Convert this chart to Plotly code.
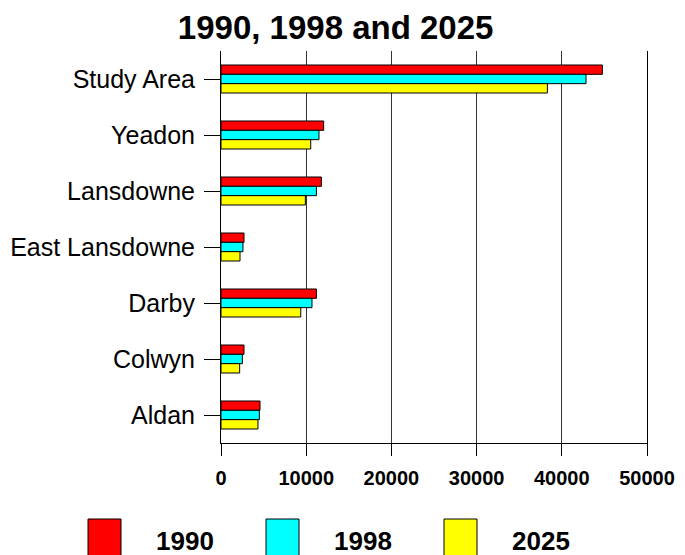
import plotly.graph_objects as go

categories = ["Study Area", "Yeadon", "Lansdowne", "East Lansdowne", "Darby", "Colwyn", "Aldan"]
series_names = ["1990", "1998", "2025"]
values_1990 = [44760, 12050, 11780, 2700, 11200, 2700, 4580]
values_1998 = [42840, 11500, 11200, 2580, 10680, 2510, 4500]
values_2025 = [38310, 10530, 9900, 2230, 9360, 2190, 4340]
colors = ["#FF0000", "#00FFFF", "#FFFF00"]
x_ticks = [0, 10000, 20000, 30000, 40000, 50000]

W, H = 685, 555
L, R, T, B = 221, 38, 51, 112
PW, PH = W - L - R, H - T - B

def px(x):
    return (x - L) / PW

def py(y):
    return (H - B - y) / PH

fig = go.Figure()
for name, vals, col in zip(series_names, [values_1990, values_1998, values_2025], colors):
    fig.add_trace(go.Bar(
        y=categories, x=vals, name=name, orientation="h",
        marker=dict(color=col, line=dict(color="black", width=1)),
        showlegend=False,
    ))

fig.update_layout(
    width=W, height=H,
    margin=dict(l=L, r=R, t=T, b=B),
    paper_bgcolor="white", plot_bgcolor="white",
    barmode="group", bargap=0.5, bargroupgap=0,
    title=dict(text="<b>1990, 1998 and 2025</b>", x=0.49, xanchor="center",
               y=1 - 27 / H, yanchor="middle",
               font=dict(family="Liberation Sans, Arial", size=33, color="black")),
    font=dict(family="Liberation Sans, Arial", color="black"),
)

fig.update_xaxes(
    range=[0, 50000], tickvals=x_ticks, ticktext=[f"<b>{v}</b>" for v in x_ticks],
    showgrid=True, gridcolor="#333333", gridwidth=1,
    showline=True, linecolor="black", linewidth=1,
    ticks="outside", ticklen=12, tickcolor="black",
    tickfont=dict(size=20, color="black"), zeroline=False,
    ticklabelstandoff=5, automargin=False,
)
fig.update_yaxes(
    autorange="reversed", categoryorder="array", categoryarray=categories,
    showline=True, mirror=True, linecolor="black", linewidth=1,
    ticks="outside", ticklen=16, tickcolor="black",
    tickfont=dict(size=25, color="black"), showgrid=False,
    ticklabelstandoff=4, automargin=False,
)

# legend drawn as squares and labels
leg_sq_left = [88, 266, 444]
for i, (name, col) in enumerate(zip(series_names, colors)):
    x0 = leg_sq_left[i]
    fig.add_shape(type="rect", xref="paper", yref="paper",
                  x0=px(x0), x1=px(x0 + 33), y0=py(519), y1=py(556),
                  fillcolor=col, line=dict(color="black", width=1))
    fig.add_annotation(xref="paper", yref="paper", x=px(x0 + 66), y=py(541),
                       xanchor="left", yanchor="middle", showarrow=False,
                       text=f"<b>{name}</b>",
                       font=dict(size=26, color="black", family="Liberation Sans, Arial"))

fig.write_html("out.html")
